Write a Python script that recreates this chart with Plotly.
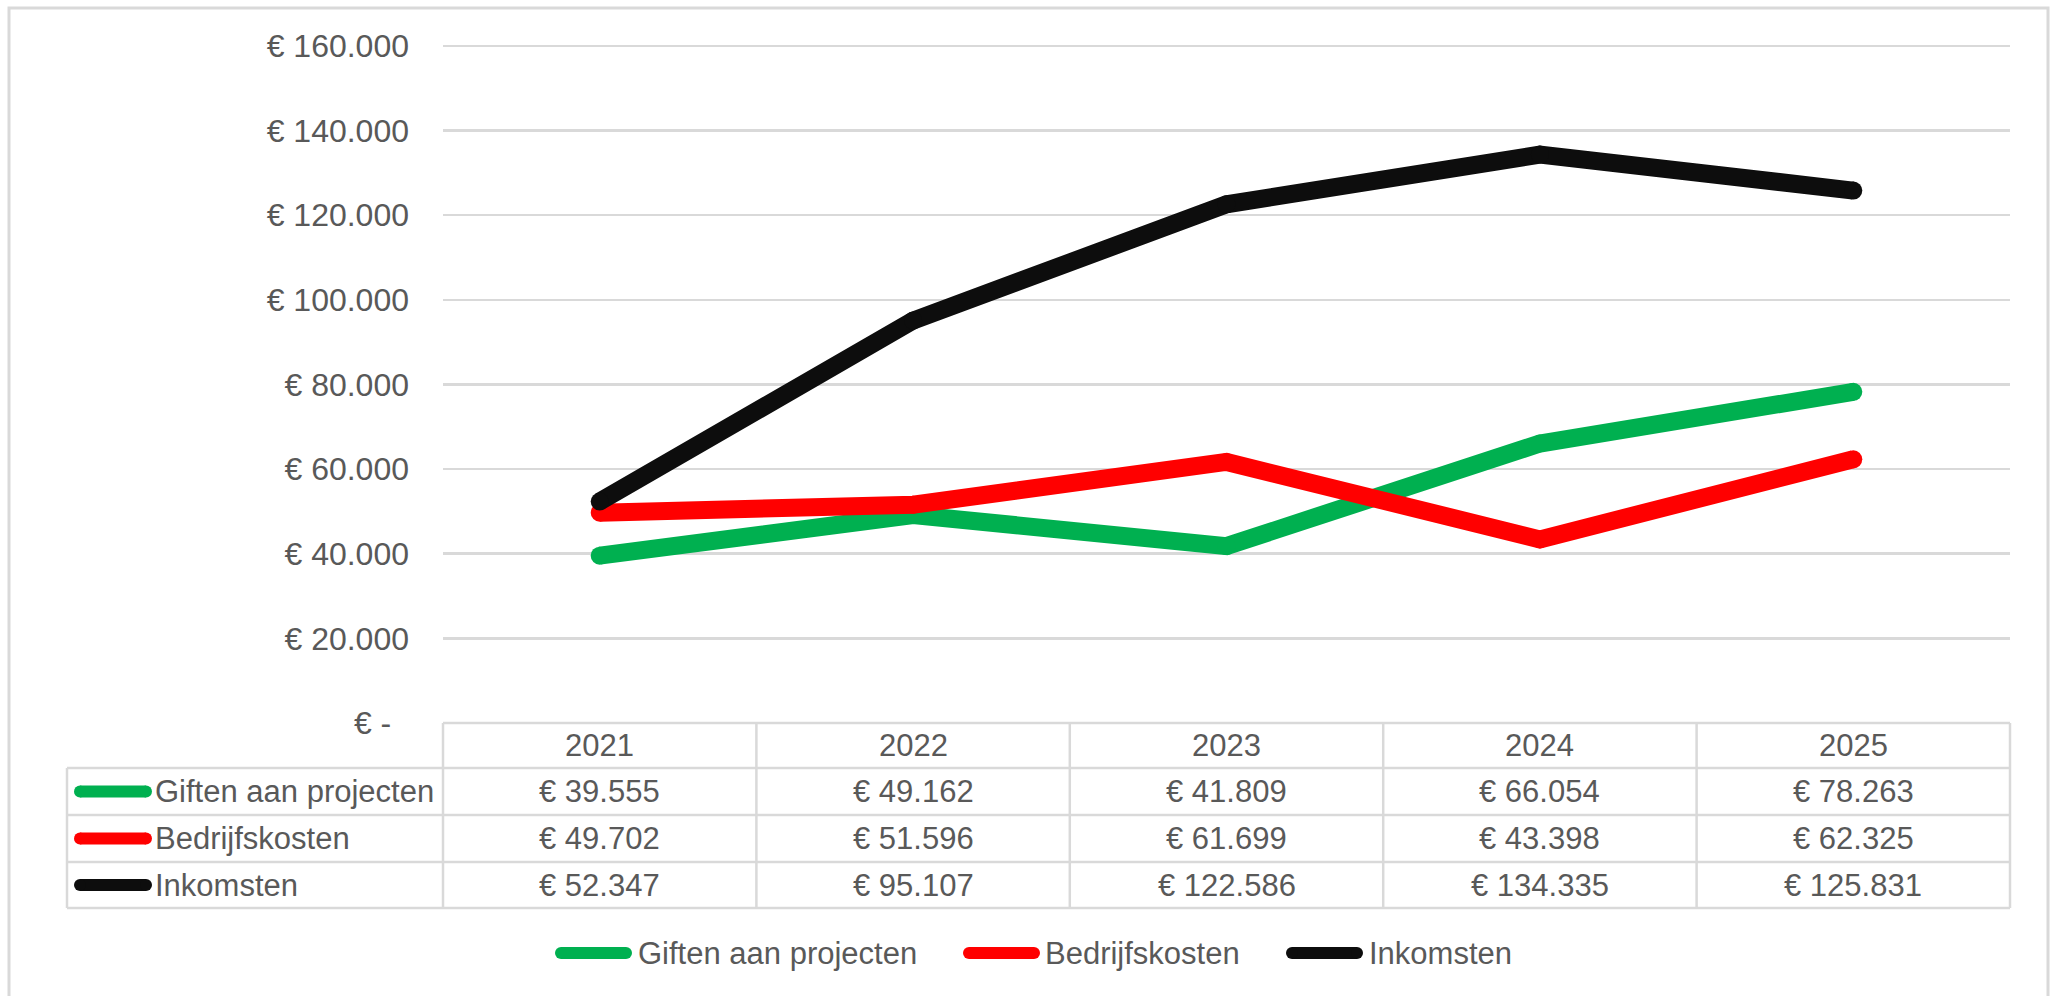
import plotly.graph_objects as go

# ---- data ----
years = ["2021", "2022", "2023", "2024", "2025"]
series_names = ["Giften aan projecten", "Bedrijfskosten", "Inkomsten"]
giften = [39555, 49162, 41809, 66054, 78263]
bedrijfskosten = [49702, 51596, 61699, 43398, 62325]
inkomsten = [52347, 95107, 122586, 134335, 125831]
y_ticks = [0, 20000, 40000, 60000, 80000, 100000, 120000, 140000, 160000]

series_values = [giften, bedrijfskosten, inkomsten]
series_colors = ["#00B050", "#FF0000", "#0D0D0D"]

# ---- layout constants (pixels) ----
W, H = 2058, 996
PLOT_L, PLOT_R = 443, 2010
PLOT_T, PLOT_B = 46, 723
Y_MAX = 160000
Y_PAD = 400  # tiny headroom so the top gridline is drawn
TABLE_L = 67
ROW_EDGES = [723, 768, 815, 862, 908]
GRID = "#D9D9D9"
TXT = "#595959"
FONT = "Liberation Sans, Arial, sans-serif"
FS = 31
FS_TICK = 32
LINE_W = 18
KEY_W = 12


def px(x):
    return x / W


def py(y):
    return 1 - y / H


def eur(v):
    if v == 0:
        return "€ -\u00a0\u00a0"
    return "€ " + f"{v:,}".replace(",", ".")


fig = go.Figure()

for name, vals, col in zip(series_names, series_values, series_colors):
    fig.add_trace(go.Scatter(
        x=list(range(len(years))), y=vals, name=name, mode="lines+markers",
        line=dict(color=col, width=LINE_W),
        marker=dict(color=col, size=LINE_W, line=dict(width=0)),
        showlegend=False, hoverinfo="skip",
    ))

shapes = []
annotations = []

# outer chart border
shapes.append(dict(type="rect", xref="paper", yref="paper",
                   x0=px(9), x1=px(2048), y0=py(8), y1=py(1010),
                   line=dict(color=GRID, width=3), fillcolor="rgba(0,0,0,0)", layer="below"))

# data table borders
col_w = (PLOT_R - PLOT_L) / len(years)
for k, yy in enumerate(ROW_EDGES):
    x0 = PLOT_L if k == 0 else TABLE_L
    shapes.append(dict(type="line", xref="paper", yref="paper",
                       x0=px(x0), x1=px(PLOT_R), y0=py(yy), y1=py(yy),
                       line=dict(color=GRID, width=2.5)))
shapes.append(dict(type="line", xref="paper", yref="paper",
                   x0=px(TABLE_L), x1=px(TABLE_L), y0=py(ROW_EDGES[1]), y1=py(ROW_EDGES[-1]),
                   line=dict(color=GRID, width=2.5)))
for j in range(len(years) + 1):
    xx = PLOT_L + j * col_w
    shapes.append(dict(type="line", xref="paper", yref="paper",
                       x0=px(xx), x1=px(xx), y0=py(ROW_EDGES[0]), y1=py(ROW_EDGES[-1]),
                       line=dict(color=GRID, width=2.5)))

# year headers (x positions via the category axis index)
hdr_c = (ROW_EDGES[0] + ROW_EDGES[1]) / 2
for j, yr in enumerate(years):
    annotations.append(dict(x=j, xref="x", y=py(hdr_c), yref="paper", text=yr,
                            showarrow=False, xanchor="center", yanchor="middle",
                            font=dict(family=FONT, size=FS, color=TXT)))


def key(x0, x1, yc, col):
    r = KEY_W / 2
    shapes.append(dict(type="line", xref="paper", yref="paper",
                       x0=px(x0 + r), x1=px(x1 - r), y0=py(yc), y1=py(yc),
                       line=dict(color=col, width=KEY_W)))
    for cx in (x0 + r, x1 - r):
        shapes.append(dict(type="circle", xref="paper", yref="paper",
                           x0=px(cx - r), x1=px(cx + r), y0=py(yc + r), y1=py(yc - r),
                           fillcolor=col, line=dict(width=0)))


# table rows
for i, (name, vals, col) in enumerate(zip(series_names, series_values, series_colors)):
    yc = (ROW_EDGES[i + 1] + ROW_EDGES[i + 2]) / 2
    key(74, 152, yc, col)
    annotations.append(dict(x=px(153), xref="paper", y=py(yc), yref="paper", text=name,
                            showarrow=False, xanchor="left", yanchor="middle",
                            font=dict(family=FONT, size=FS, color=TXT)))
    for j, v in enumerate(vals):
        annotations.append(dict(x=j, xref="x", y=py(yc), yref="paper", text=eur(v),
                                showarrow=False, xanchor="center", yanchor="middle",
                                font=dict(family=FONT, size=FS, color=TXT)))

# bottom legend
LEG_Y = 953
leg_pos = [(555, 632, 636), (963, 1040, 1043), (1286, 1363, 1367)]
for (k0, k1, tx), name, col in zip(leg_pos, series_names, series_colors):
    key(k0, k1, LEG_Y, col)
    annotations.append(dict(x=px(tx), xref="paper", y=py(LEG_Y), yref="paper", text=name,
                            showarrow=False, xanchor="left", yanchor="middle",
                            font=dict(family=FONT, size=FS, color=TXT)))

top_px = PLOT_T - (PLOT_B - PLOT_T) * Y_PAD / Y_MAX

fig.update_layout(
    width=W, height=H, autosize=False,
    margin=dict(l=0, r=0, t=0, b=0, pad=0),
    paper_bgcolor="white", plot_bgcolor="white",
    showlegend=False,
    shapes=shapes, annotations=annotations,
    xaxis=dict(domain=[px(PLOT_L), px(PLOT_R)], automargin=False,
               range=[-0.5, len(years) - 0.5], showgrid=False, zeroline=False,
               showline=False, showticklabels=False, fixedrange=True),
    yaxis=dict(domain=[py(PLOT_B), py(top_px)], range=[0, Y_MAX + Y_PAD], automargin=False,
               tickvals=y_ticks, ticktext=[eur(v) for v in y_ticks],
               showgrid=True, gridcolor=GRID, gridwidth=2.5, zeroline=False,
               showline=False, ticks="", ticklabelstandoff=33,
               tickfont=dict(family=FONT, size=FS_TICK, color=TXT), fixedrange=True),
)

fig.write_html(
    "out.html",
    config={"displayModeBar": False, "staticPlot": True},
    post_script="document.body.style.margin='0';document.body.style.overflow='hidden';",
)
